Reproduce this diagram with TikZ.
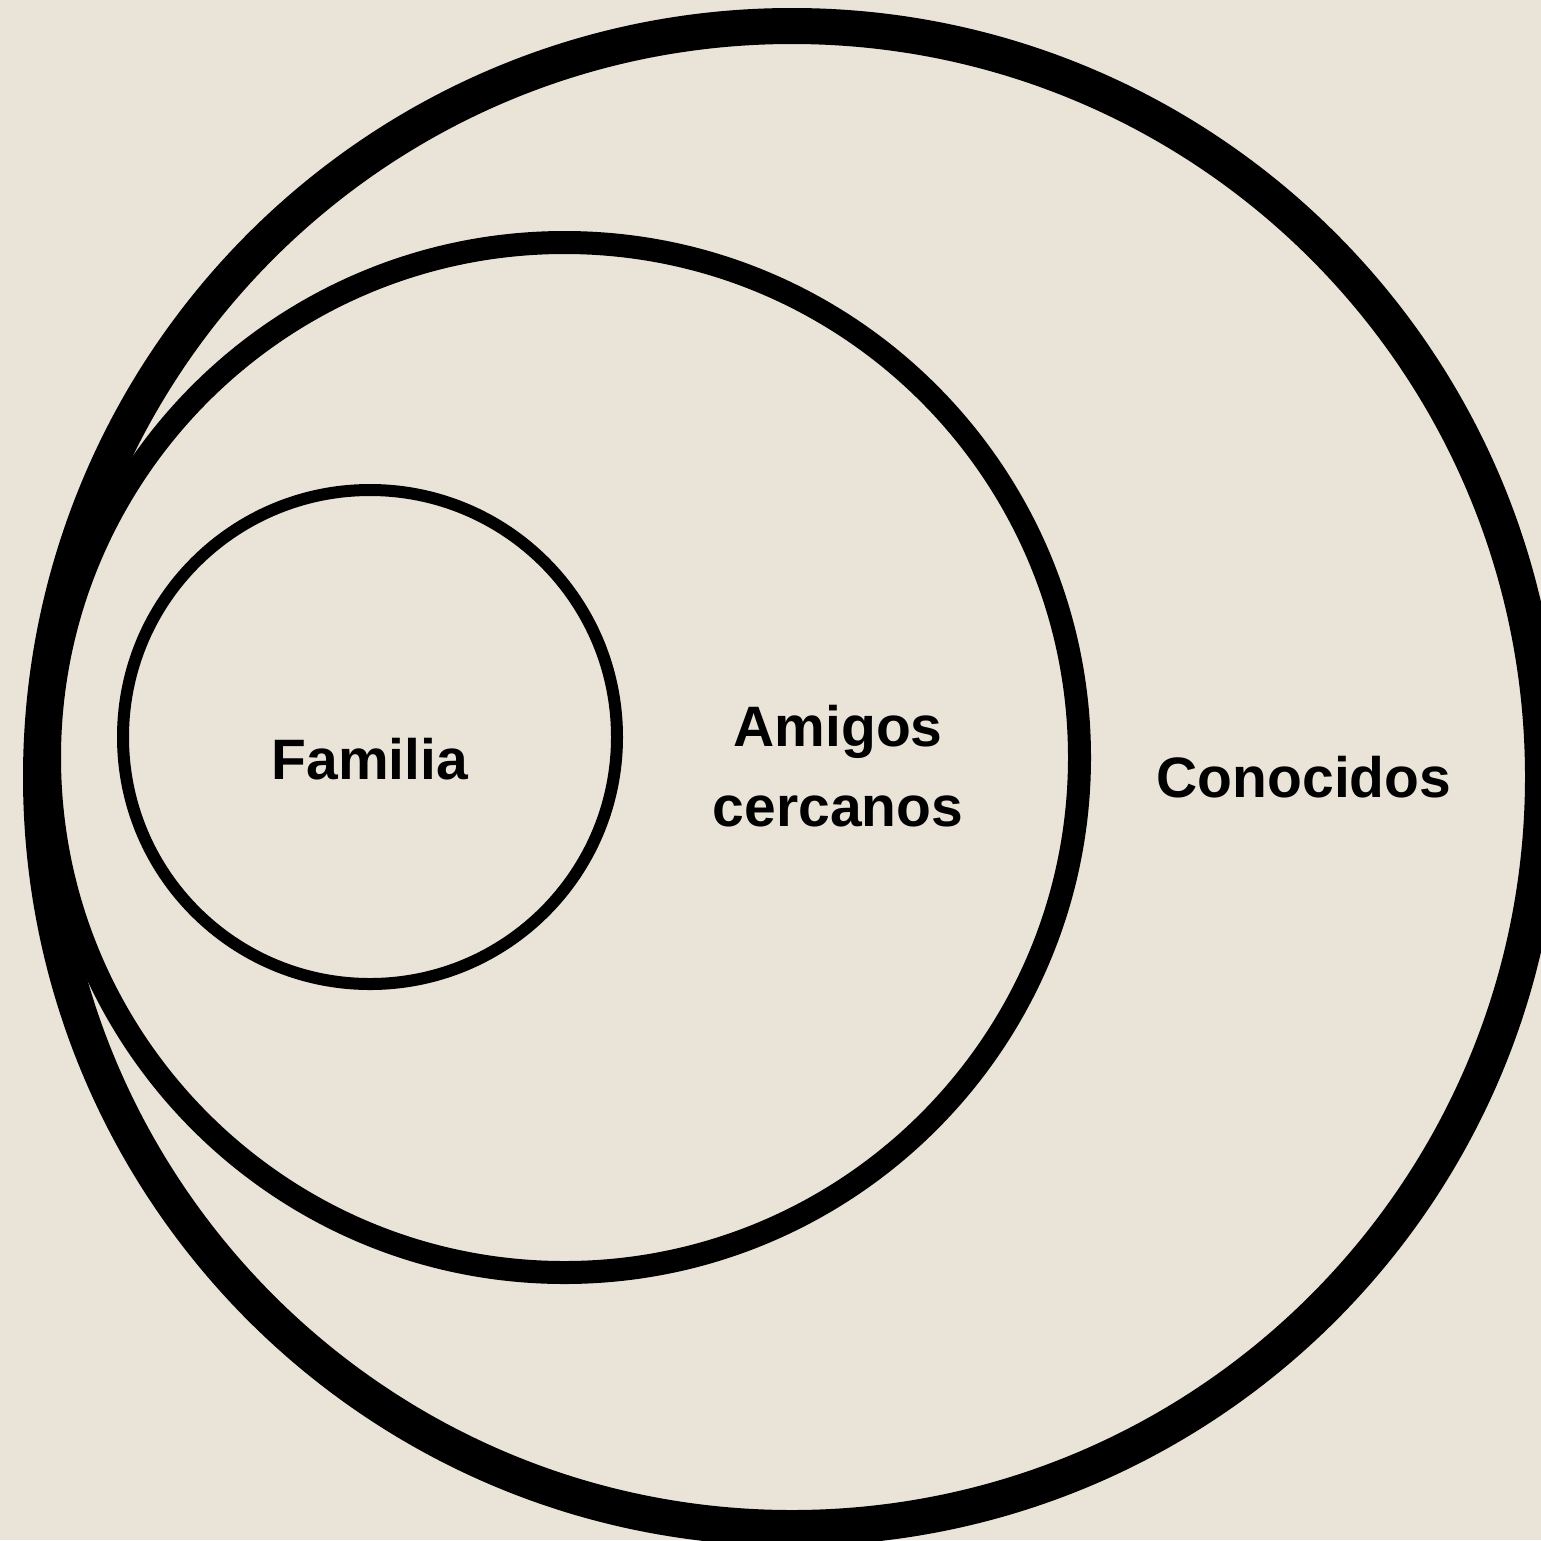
\documentclass[tikz,border=0pt]{standalone}
\usepackage{fontspec}
\setmainfont{Liberation Sans}
\definecolor{paper}{RGB}{234,227,216}

\begin{document}
\begin{tikzpicture}[x=1pt,y=-1pt,
  lbl/.style={font=\bfseries\fontsize{57}{80}\selectfont, inner sep=0pt, align=center}]
\useasboundingbox (0,0) rectangle (1541,1540);
\clip (0,0) rectangle (1541,1540);
\fill[paper] (0,0) rectangle (1541,1540);
\draw[line width=36pt] (792,777) circle (751pt);
\draw[line width=23pt] (564.5,757.5) circle (515pt);
\draw[line width=12pt] (370,737) circle (247pt);
\node[lbl, anchor=base] (familia) at (370,779) {Familia};
\node[lbl] (amigos) at (838,766) {Amigos\\cercanos};
\node[lbl, anchor=base] (conocidos) at (1304,797) {Conocidos};
\end{tikzpicture}
\end{document}
